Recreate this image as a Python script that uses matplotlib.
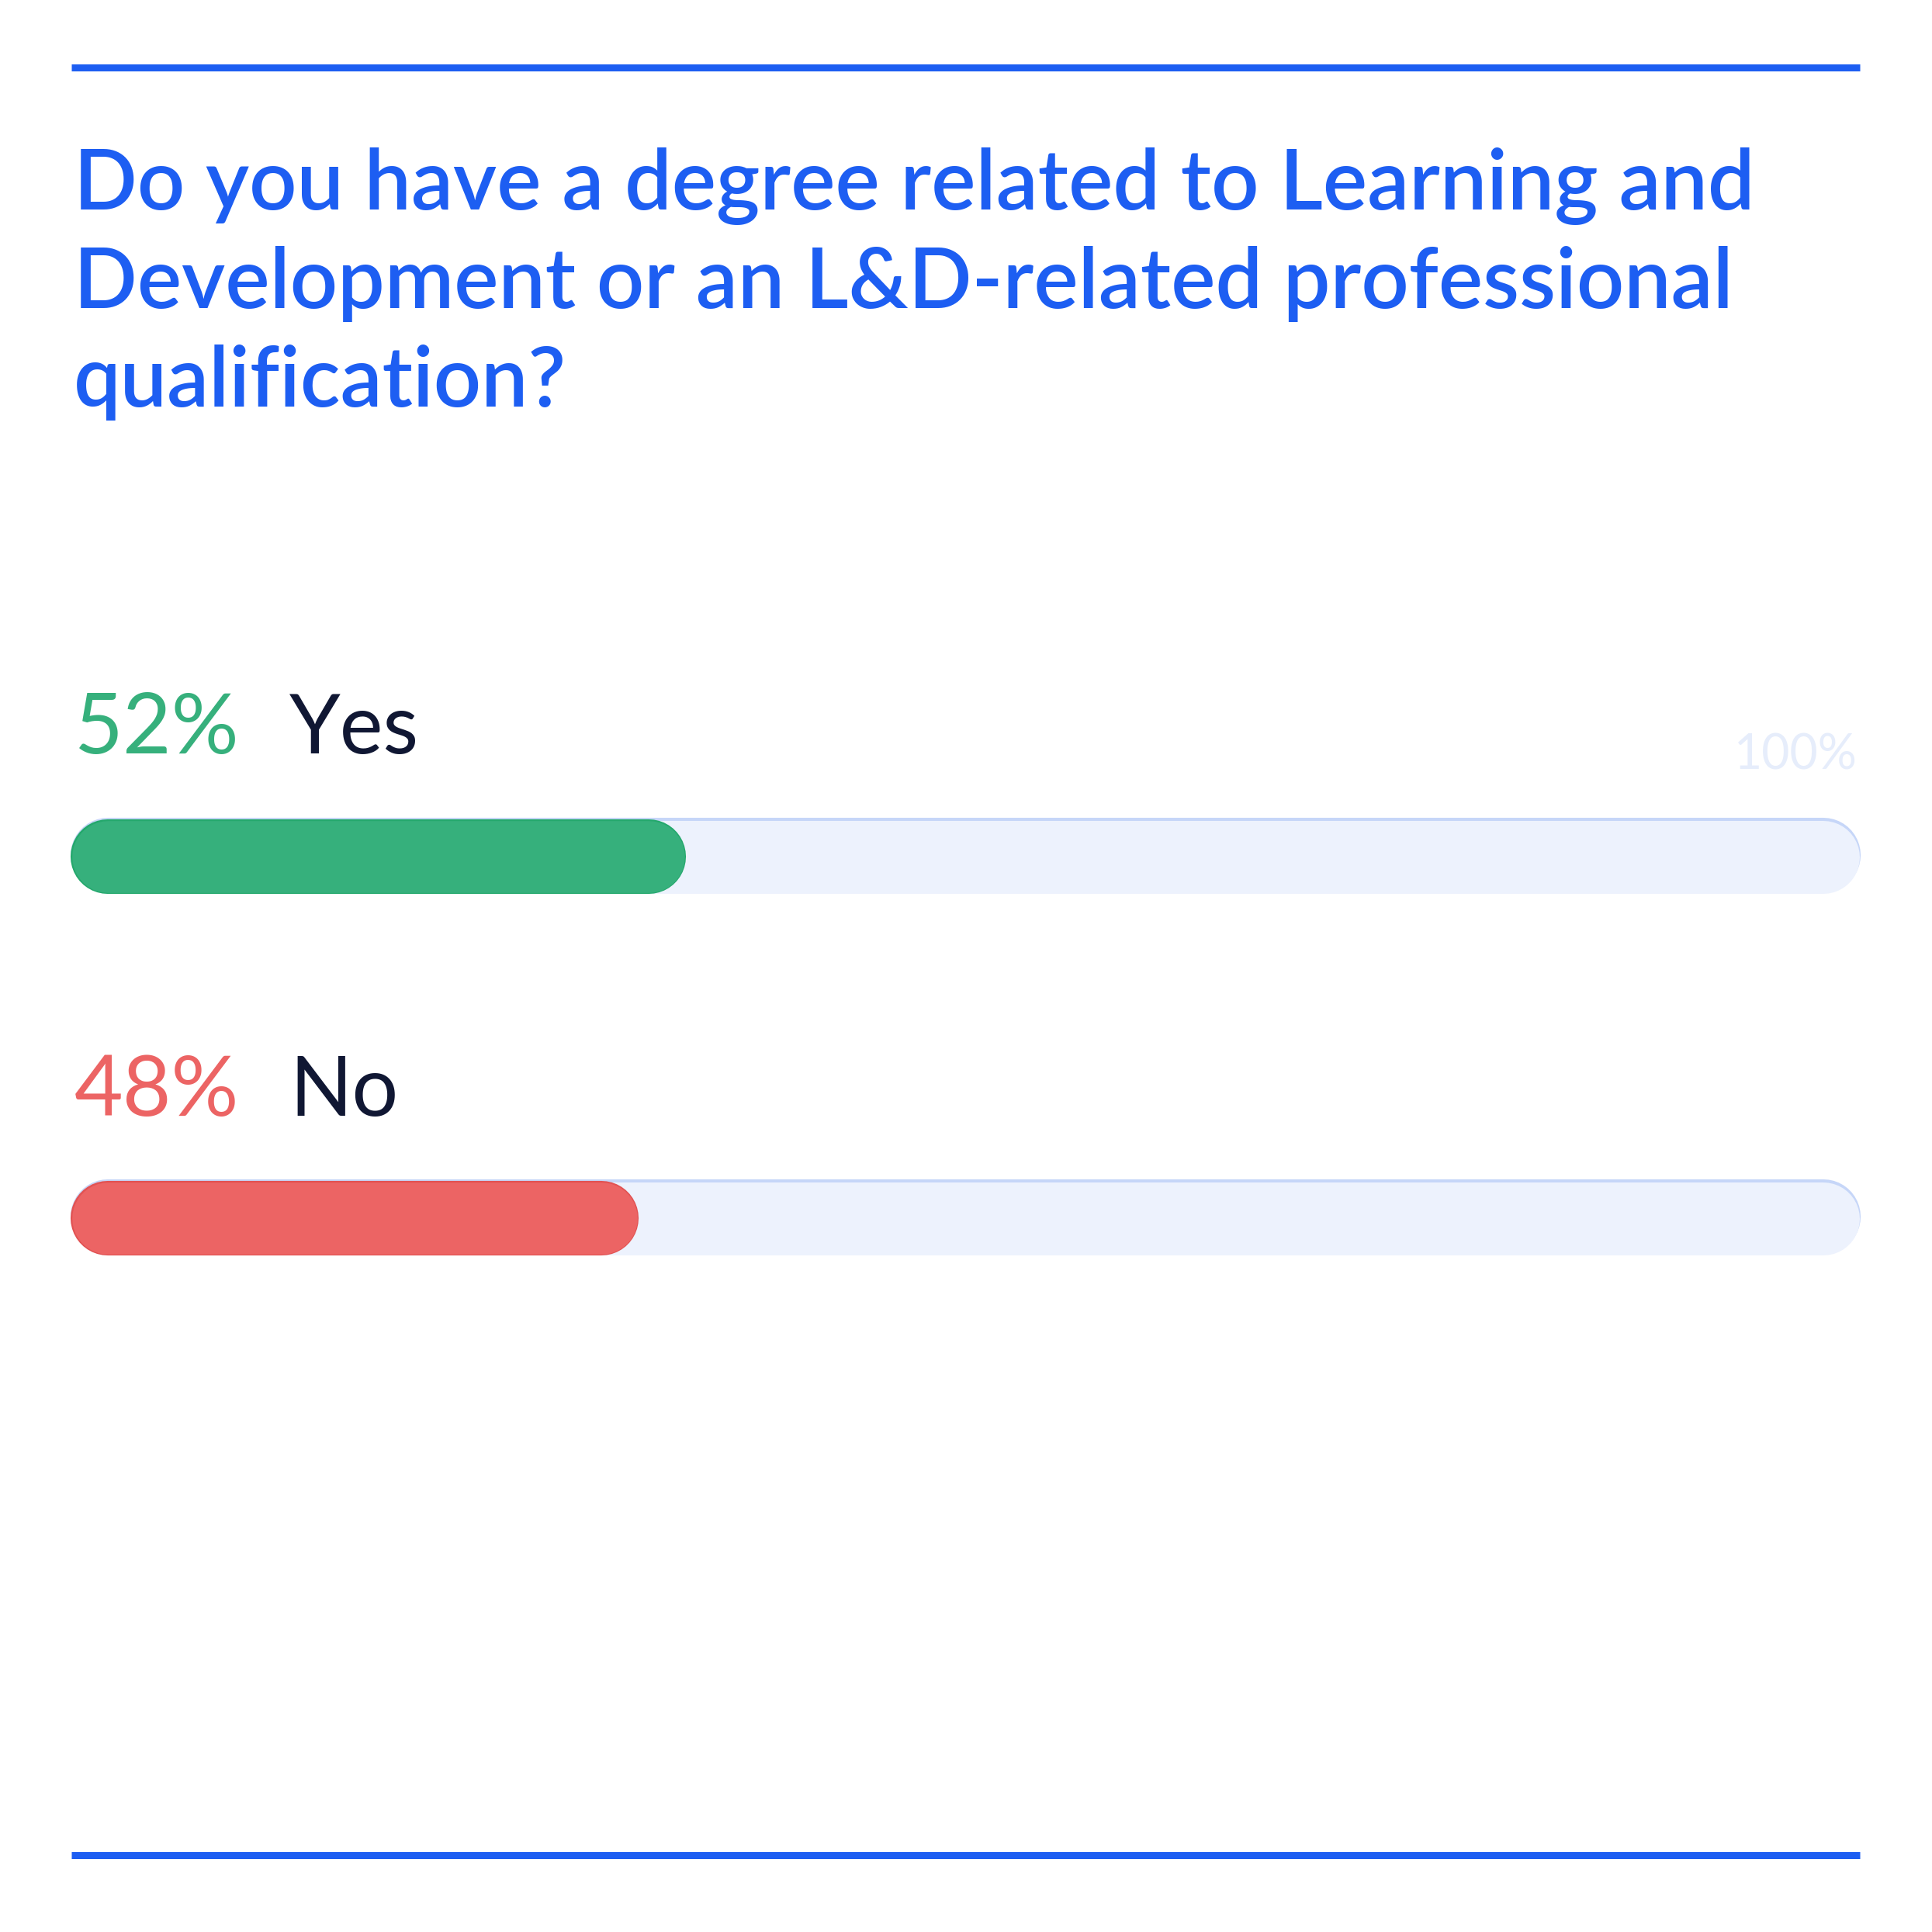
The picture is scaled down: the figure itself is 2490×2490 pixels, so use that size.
import matplotlib
matplotlib.use("Agg")
import matplotlib.pyplot as plt
from matplotlib.lines import Line2D

# data
title_lines = [
    "Do you have a degree related to Learning and",
    "Development or an L&D-related professional",
    "qualification?",
]
answers = ["Yes", "No"]
values = [52, 48]
value_colors = ["#36b07c", "#ec6464"]
edge_colors = ["#24a86c", "#e25252"]
scale_label = "100%"
scale_max = 151.5  # track length in the picture, in value units

W = H = 2490
BLUE = "#1d5ef2"
TRACK = "#edf2fd"
TRACK_EDGE = "#c6d6f8"
DARK = "#101733"

fig = plt.figure(figsize=(W / 100, H / 100), dpi=100)
fig.patch.set_facecolor("white")

def fx(px):
    return px / W

def fy(py):
    return 1 - py / H

# top and bottom rules
for yy in (87, 2391):
    fig.add_artist(Line2D([fx(92), fx(2397)], [fy(yy), fy(yy)], color=BLUE, lw=6.5, solid_capstyle="butt"))

# title
for i, line in enumerate(title_lines):
    fig.text(fx(95), fy(270 + i * 127), line, color=BLUE, fontsize=77.5, family="Lato",
             fontweight="semibold", va="baseline", ha="left")

# bars
x0, x1 = 92, 2397
bar_h = 94
bar_centers = [1104, 1570]
label_base = [971, 1438]

for k, (ans, val, col) in enumerate(zip(answers, values, value_colors)):
    cy = bar_centers[k]
    ax = fig.add_axes([fx(x0), fy(cy + bar_h / 2 + 6), fx(x1) - fx(x0), (bar_h + 12) / H])
    ax.set_xlim(0, scale_max)
    ax.set_ylim(-1, 1)
    ax.axis("off")
    lw_pt = bar_h * 0.72  # pixels -> points at 100 dpi
    r = (bar_h / 2) / (x1 - x0) * scale_max
    # track (edge line slightly raised, then fill)
    ax.plot([r, scale_max - r], [0.04, 0.04], color=TRACK_EDGE, lw=lw_pt + 1.5,
            solid_capstyle="round", clip_on=False)
    ax.plot([r, scale_max - r], [-0.02, -0.02], color=TRACK, lw=lw_pt,
            solid_capstyle="round", clip_on=False)
    # value
    ax.plot([r, val - r], [0, 0], color=edge_colors[k], lw=lw_pt + 1.5,
            solid_capstyle="round", clip_on=False)
    ax.plot([r, val - r], [0, 0], color=col, lw=lw_pt - 1,
            solid_capstyle="round", clip_on=False)

    fig.text(fx(96), fy(label_base[k]), f"{val}%", color=col, fontsize=78, family="Lato",
             va="baseline", ha="left")
    fig.text(fx(373), fy(label_base[k]), ans, color=DARK, fontsize=76, family="Lato",
             va="baseline", ha="left")

fig.text(fx(2394), fy(992), scale_label, color="#e6edfb", fontsize=45, family="Lato",
         va="baseline", ha="right")

fig.savefig("out.png", dpi=100, facecolor="white")
